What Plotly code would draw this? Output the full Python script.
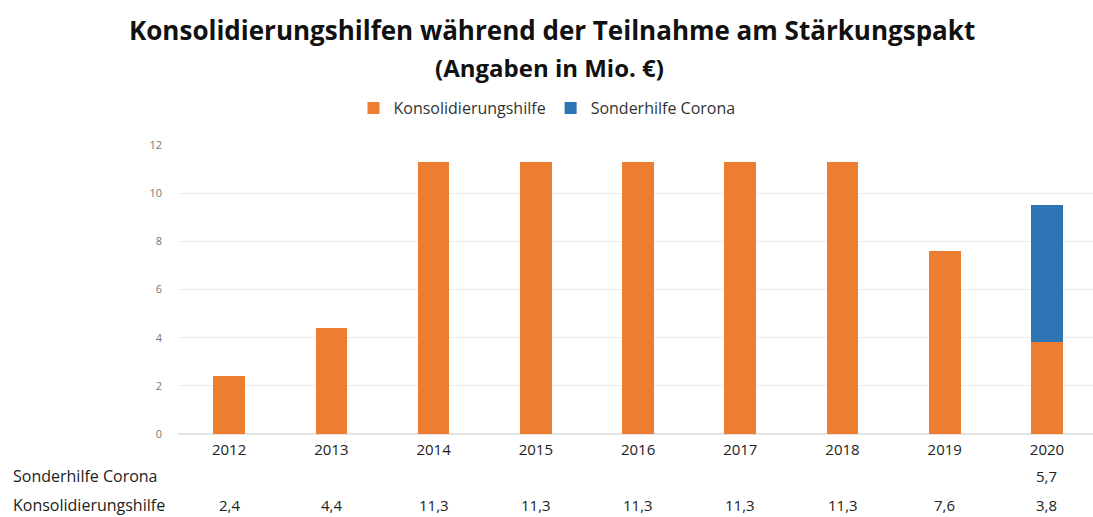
import plotly.graph_objects as go

years = ["2012", "2013", "2014", "2015", "2016", "2017", "2018", "2019", "2020"]
konsolidierungshilfe = [2.4, 4.4, 11.3, 11.3, 11.3, 11.3, 11.3, 7.6, 3.8]
sonderhilfe_corona = [None, None, None, None, None, None, None, None, 5.7]
y_ticks = [0, 2, 4, 6, 8, 10, 12]

FONT = "Open Sans"
ORANGE = "#ED7D31"
BLUE = "#2E75B6"

def fmt(v):
    return "" if v is None else f"{v:.1f}".replace(".", ",")

idx = list(range(len(years)))

fig = go.Figure()
fig.add_trace(go.Bar(x=idx, y=konsolidierungshilfe, name="Konsolidierungshilfe",
                     marker=dict(color=ORANGE, line=dict(width=0))))
fig.add_trace(go.Bar(x=idx, y=sonderhilfe_corona, name="Sonderhilfe Corona",
                     marker=dict(color=BLUE, line=dict(width=0))))

H_PLOT = 434 - 145
W_PLOT = 1093 - 178

def py(pix):
    return (434 - pix) / H_PLOT

def px(pix):
    return (pix - 178) / W_PLOT

annotations = [
    dict(text="<b>Konsolidierungshilfen während der Teilnahme am Stärkungspakt</b>",
         xref="paper", yref="paper", x=px(552), y=py(30),
         showarrow=False, font=dict(family=FONT, size=26, color="#111"),
         xanchor="center", yanchor="middle"),
    dict(text="<b>(Angaben in Mio. €)</b>",
         xref="paper", yref="paper", x=px(549), y=py(68),
         showarrow=False, font=dict(family=FONT, size=24, color="#111"),
         xanchor="center", yanchor="middle"),
    dict(text="Sonderhilfe Corona", xref="paper", yref="paper",
         x=px(11), y=py(476), showarrow=False,
         font=dict(family=FONT, size=16, color="#222"), xanchor="left", yanchor="middle"),
    dict(text="Konsolidierungshilfe", xref="paper", yref="paper",
         x=px(11), y=py(505), showarrow=False,
         font=dict(family=FONT, size=16, color="#222"), xanchor="left", yanchor="middle"),
]
for i, (k, s) in enumerate(zip(konsolidierungshilfe, sonderhilfe_corona)):
    if s is not None:
        annotations.append(dict(text=fmt(s), xref="x", yref="paper", x=i, y=py(476),
                                showarrow=False, font=dict(family=FONT, size=15, color="#222"),
                                xanchor="center", yanchor="middle"))
    annotations.append(dict(text=fmt(k), xref="x", yref="paper", x=i, y=py(505),
                            showarrow=False, font=dict(family=FONT, size=15, color="#222"),
                            xanchor="center", yanchor="middle"))

fig.update_layout(
    width=1093, height=517,
    margin=dict(l=178, r=0, t=145, b=83, autoexpand=False),
    barmode="stack", bargap=0.69,
    plot_bgcolor="white", paper_bgcolor="white",
    font=dict(family=FONT),
    showlegend=True,
    legend=dict(orientation="h", x=px(547), xanchor="center",
                y=py(108), yanchor="middle", traceorder="normal",
                font=dict(family=FONT, size=16, color="#333"),
                itemwidth=30, bgcolor="rgba(0,0,0,0)"),
    annotations=annotations,
    xaxis=dict(range=[-0.5, 8.45], tickvals=idx, ticktext=years, showgrid=False,
               showline=False, ticks="", zeroline=False, automargin=False,
               ticklabelstandoff=5,
               tickfont=dict(family=FONT, size=15, color="#222")),
    yaxis=dict(range=[0, 12], tickvals=y_ticks, showgrid=True, gridcolor="#ececec",
               gridwidth=1, zeroline=True, zerolinecolor="#e4e4e4", showline=False,
               automargin=False,
               tickfont=dict(family=FONT, size=11, color="#777"), ticklabelstandoff=15),
)

fig.write_html("out.html", config={"displayModeBar": False},
               post_script="document.body.style.margin='0';document.body.style.overflow='hidden';")
